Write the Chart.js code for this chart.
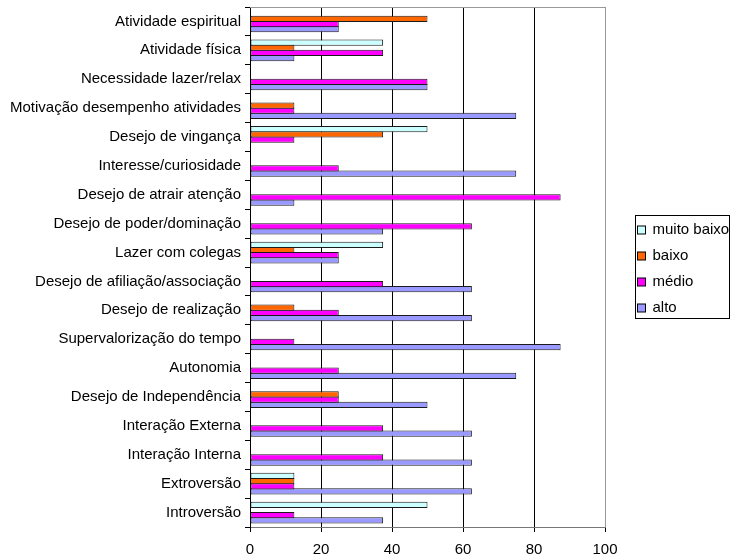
<!DOCTYPE html>
<html>
<head>
<meta charset="utf-8">
<script src="https://cdn.jsdelivr.net/npm/chart.js@4/dist/chart.umd.min.js"></script>
<style>
  html, body { margin: 0; padding: 0; background: #fff; }
  #wrap { width: 731px; height: 557px; }
</style>
</head>
<body>
<div id="wrap"><canvas id="chart" width="731" height="557"></canvas></div>
<script>
// Motivational factors, listed top to bottom
const categories = [
  'Atividade espiritual',
  'Atividade física',
  'Necessidade lazer/relax',
  'Motivação desempenho atividades',
  'Desejo de vingança',
  'Interesse/curiosidade',
  'Desejo de atrair atenção',
  'Desejo de poder/dominação',
  'Lazer com colegas',
  'Desejo de afiliação/associação',
  'Desejo de realização',
  'Supervalorização do tempo',
  'Autonomia',
  'Desejo de Independência',
  'Interação Externa',
  'Interação Interna',
  'Extroversão',
  'Introversão'
];

// Percentage of answers per level
const muitoBaixo = [0, 37.5, 0, 0, 50, 0, 0, 0, 37.5, 0, 0, 0, 0, 0, 0, 0, 12.5, 50];
const baixo      = [50, 12.5, 0, 12.5, 37.5, 0, 0, 0, 12.5, 0, 12.5, 0, 0, 25, 0, 0, 12.5, 0];
const medio      = [25, 37.5, 50, 12.5, 12.5, 25, 87.5, 62.5, 25, 37.5, 25, 12.5, 25, 25, 37.5, 37.5, 12.5, 12.5];
const alto       = [25, 12.5, 50, 75, 0, 75, 12.5, 37.5, 25, 62.5, 62.5, 87.5, 75, 50, 62.5, 62.5, 62.5, 37.5];

const seriesNames = ['muito baixo', 'baixo', 'médio', 'alto'];
const seriesColors = ['#CCFFFF', '#FF6600', '#FF00FF', '#9999FF'];
const xTickValues = [0, 20, 40, 60, 80, 100];

const FONT = 'Liberation Sans, Arial, sans-serif';
Chart.defaults.color = '#000';
Chart.defaults.font.family = FONT;
Chart.defaults.font.size = 15;

const seriesValues = [muitoBaixo, baixo, medio, alto];
const datasets = seriesNames.map((name, i) => ({
  label: name,
  data: seriesValues[i],
  backgroundColor: seriesColors[i],
  borderColor: '#1a1a1a',
  // empty levels leave no outline on the axis
  borderWidth: c => (c.raw ? 1 : 0),
  borderSkipped: false,
  categoryPercentage: 0.72,
  barPercentage: 1.2
}));

// Plot frame (top edge) and boxed legend on the right
const framePlugin = {
  id: 'frameAndLegend',
  afterDraw(chart) {
    const { ctx, chartArea: a } = chart;
    ctx.save();
    ctx.strokeStyle = '#999';
    ctx.lineWidth = 1;
    ctx.beginPath();
    ctx.moveTo(a.left, Math.round(a.top) + 0.5);
    ctx.lineTo(Math.round(a.right) + 0.5, Math.round(a.top) + 0.5);
    ctx.stroke();

    // legend box
    const rowH = 26;
    const boxW = 94, boxH = 103;
    const boxL = 635.5;
    const boxT = Math.floor((a.top + a.bottom) / 2 - boxH / 2) + 0.5;
    ctx.strokeStyle = '#000';
    ctx.fillStyle = '#fff';
    ctx.fillRect(boxL, boxT, boxW, boxH);
    ctx.strokeRect(boxL, boxT, boxW, boxH);
    ctx.font = '15px ' + FONT;
    ctx.textBaseline = 'middle';
    ctx.textAlign = 'left';
    chart.data.datasets.forEach((ds, i) => {
      const cy = Math.round(boxT + 14 + i * rowH);
      ctx.fillStyle = ds.backgroundColor;
      ctx.fillRect(boxL + 2, cy - 4, 8, 8);
      ctx.strokeStyle = '#000';
      ctx.strokeRect(boxL + 2, cy - 4, 8, 8);
      ctx.fillStyle = '#000';
      ctx.fillText(ds.label, boxL + 17, cy);
    });
    ctx.restore();
  }
};

new Chart(document.getElementById('chart'), {
  type: 'bar',
  data: { labels: categories, datasets },
  options: {
    indexAxis: 'y',
    responsive: false,
    devicePixelRatio: 1,
    animation: false,
    layout: { padding: { top: 7, right: 126, left: 0, bottom: 0 } },
    plugins: {
      legend: { display: false },
      tooltip: { enabled: false }
    },
    scales: {
      x: {
        min: 0,
        max: 100,
        afterBuildTicks(scale) {
          scale.ticks = xTickValues.map(v => ({ value: v }));
        },
        afterFit(scale) {
          scale.height = 30;
          scale.paddingLeft = 0;
          scale.paddingRight = 0;
        },
        ticks: { padding: 9, color: '#000', font: { size: 15 } },
        grid: {
          color: c => (c.tick && c.tick.value === 100) ? '#999' : '#000',
          tickColor: '#000',
          tickLength: 5,
          lineWidth: 1
        },
        border: { display: true, color: '#777', width: 1 }
      },
      y: {
        afterFit(scale) {
          scale.width = 250;
          scale.paddingTop = 0;
          scale.paddingBottom = 0;
        },
        ticks: { padding: 4, color: '#000', font: { size: 15 } },
        grid: {
          drawOnChartArea: false,
          drawTicks: true,
          tickLength: 5,
          tickColor: '#000',
          offset: true
        },
        border: { display: true, color: '#000', width: 1 }
      }
    }
  },
  plugins: [framePlugin]
});
</script>
</body>
</html>
